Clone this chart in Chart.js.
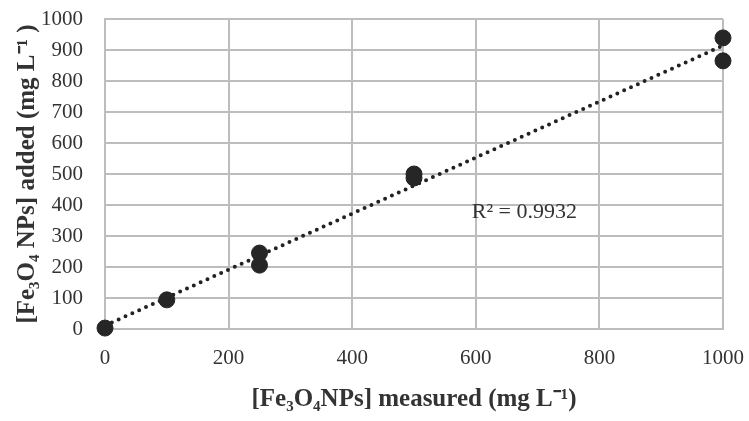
<!DOCTYPE html>
<html>
<head>
<meta charset="utf-8">
<script src="https://cdn.jsdelivr.net/npm/chart.js@4"></script>
<style>
  html, body { margin: 0; padding: 0; background: #fff; }
  #wrap { width: 749px; height: 421px; }
</style>
</head>
<body>
<div id="wrap"><canvas id="chart"></canvas></div>
<script>
const measured = [0, 100, 250, 250, 500, 500, 1000, 1000];
const added = [3, 94, 245, 206, 500, 487, 939, 865];
const xTicks = [0, 200, 400, 600, 800, 1000];
const yTicks = [0, 100, 200, 300, 400, 500, 600, 700, 800, 900, 1000];
const r2Label = 'R² = 0.9932';

// least squares trend line from the points
const n = measured.length;
const mx = measured.reduce((a, b) => a + b, 0) / n;
const my = added.reduce((a, b) => a + b, 0) / n;
let sxy = 0, sxx = 0;
for (let i = 0; i < n; i++) {
    sxy += (measured[i] - mx) * (added[i] - my);
    sxx += (measured[i] - mx) * (measured[i] - mx);
}
const slope = sxy / sxx;
const intercept = my - slope * mx;
const trend = [0, 1000].map(x => ({ x: x, y: intercept + slope * x }));

const r2Plugin = {
    id: 'r2',
    afterDatasetsDraw(chart) {
        const ctx = chart.ctx;
        const x = chart.scales.x.getPixelForValue(600);
        const y = chart.scales.y.getPixelForValue(377);
        ctx.save();
        ctx.fillStyle = '#333';
        ctx.font = '22px "Liberation Serif", serif';
        ctx.textAlign = 'left';
        ctx.textBaseline = 'middle';
        ctx.fillText(r2Label, x - 4, y);
        ctx.restore();
    }
};

const gridColor = '#bdbdbd';
const tickFont = { family: '"Liberation Serif", serif', size: 21 };
const titleFont = { family: '"Liberation Serif", serif', size: 25, weight: 'bold' };

new Chart(document.getElementById('chart').getContext('2d'), {
    type: 'scatter',
    data: {
        datasets: [{
            label: 'trend',
            type: 'line',
            data: trend,
            borderColor: '#222',
            borderWidth: 4,
            borderDash: [0, 7.5],
            borderCapStyle: 'round',
            pointRadius: 0,
            fill: false,
            order: 2
        }, {
            label: 'points',
            data: measured.map((x, i) => ({ x: x, y: added[i] })),
            backgroundColor: '#262626',
            borderColor: '#262626',
            pointRadius: 8,
            clip: false,
            order: 1
        }]
    },
    options: {
        responsive: true,
        maintainAspectRatio: false,
        animation: false,
        layout: { padding: { top: 0, right: 0, left: 10, bottom: 0 } },
        plugins: {
            legend: { display: false },
            tooltip: { enabled: false }
        },
        scales: {
            x: {
                type: 'linear',
                min: 0,
                max: 1000,
                afterBuildTicks: s => { s.ticks = xTicks.map(v => ({ value: v })); },
                afterFit: s => { s.height = 92; s.paddingRight = 26; },
                grid: { color: gridColor, lineWidth: 2, drawTicks: false },
                border: { color: gridColor, width: 2 },
                ticks: { color: '#333', font: tickFont, padding: 17, maxRotation: 0, autoSkip: false, callback: v => String(v) },
                title: { display: true, text: '[Fe₃O₄NPs] measured (mg L⁻¹)', color: '#333', font: titleFont, padding: { top: 0, bottom: 6 } }
            },
            y: {
                min: 0,
                max: 1000,
                afterBuildTicks: s => { s.ticks = yTicks.map(v => ({ value: v })); },
                afterFit: s => { s.width = 95; s.paddingTop = 19; },
                grid: { color: gridColor, lineWidth: 2, drawTicks: false },
                border: { color: gridColor, width: 2 },
                ticks: { color: '#333', font: tickFont, padding: 22, autoSkip: false, callback: v => String(v) },
                title: { display: true, text: '[Fe₃O₄ NPs] added (mg L⁻¹ )', color: '#333', font: titleFont, padding: { top: 3, bottom: 0 } }
            }
        }
    },
    plugins: [r2Plugin]
});
</script>
</body>
</html>
